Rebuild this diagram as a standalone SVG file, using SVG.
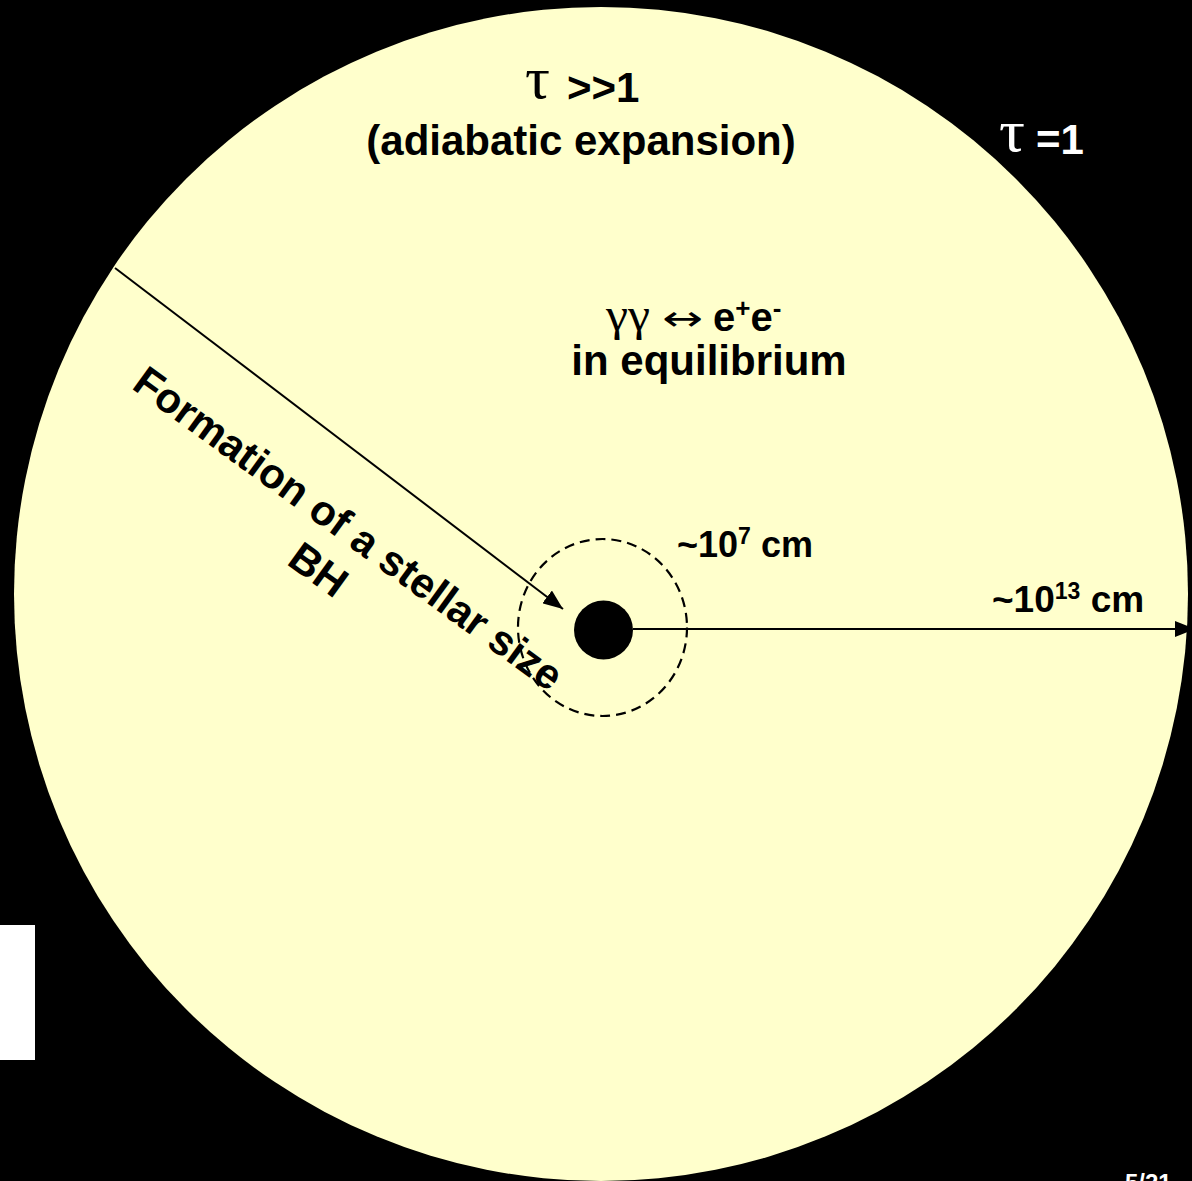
<svg xmlns="http://www.w3.org/2000/svg" width="1192" height="1181" viewBox="0 0 1192 1181">
<defs>
<style>
.t{font-family:"Liberation Sans",Arial,sans-serif;font-weight:bold;fill:#000}
.g{font-family:"Liberation Serif","Times New Roman",serif;fill:#000}
.w{fill:#fff}
.ln{stroke:#000;stroke-width:2;fill:none}
</style>
<marker id="ah" viewBox="0 0 20 16" refX="20" refY="8" markerWidth="20" markerHeight="16" markerUnits="userSpaceOnUse" orient="auto">
<path d="M0,0 L20,8 L0,16 Z" fill="#000"/>
</marker>
</defs>
<rect x="0" y="0" width="1192" height="1181" fill="#000"/>
<g id="cloud">
<circle cx="601" cy="594" r="587" fill="#FFFFCC"/>
</g>
<rect id="white-box" x="0" y="925" width="35" height="135" fill="#fff"/>
<g id="connectors">
<line class="ln" x1="115" y1="268" x2="563" y2="609" marker-end="url(#ah)"/>
<line class="ln" x1="633" y1="629" x2="1195" y2="629" marker-end="url(#ah)"/>
</g>
<g id="bh-region">
<ellipse cx="602.5" cy="627.5" rx="84.5" ry="88.5" fill="none" stroke="#000" stroke-width="2.2" stroke-dasharray="10,6"/>
<circle cx="603.5" cy="630" r="29.5" fill="#000"/>
</g>
<g id="label-tau-large">
<text class="g" x="525" y="98" font-size="60" textLength="25" lengthAdjust="spacingAndGlyphs">τ</text>
<text class="t" x="567" y="102" font-size="42">&gt;&gt;1</text>
<text class="t" x="581" y="155" text-anchor="middle" font-size="42">(adiabatic expansion)</text>
</g>
<g id="label-tau-one">
<text class="g w" x="999" y="151" font-size="60" textLength="26" lengthAdjust="spacingAndGlyphs">τ</text>
<text class="t w" x="1036" y="154" font-size="42">=1</text>
</g>
<g id="label-equilibrium">
<text class="g" x="606" y="330" font-size="46" textLength="44" lengthAdjust="spacingAndGlyphs">γγ</text>
<text x="662" y="330" font-family="'DejaVu Sans',sans-serif" font-size="34" textLength="41" lengthAdjust="spacingAndGlyphs">↔</text>
<text class="t" x="713" y="331" font-size="40">e<tspan font-size="26" dy="-14">+</tspan><tspan dy="14">e</tspan><tspan font-size="26" dy="-14">-</tspan></text>
<text class="t" x="709" y="375" text-anchor="middle" font-size="42">in equilibrium</text>
</g>
<g id="label-formation" transform="translate(340,540) rotate(36)">
<text class="t" x="0" y="0" text-anchor="middle" font-size="42">Formation of a stellar size</text>
<text class="t" x="0" y="51" text-anchor="middle" font-size="42">BH</text>
</g>
<g id="label-1e7">
<text class="t" x="677" y="557" font-size="36">~10<tspan font-size="23" dy="-13">7</tspan><tspan dy="13"> cm</tspan></text>
</g>
<g id="label-1e13">
<text class="t" x="992" y="612" font-size="37">~10<tspan font-size="23" dy="-13">13</tspan><tspan dy="13"> cm</tspan></text>
</g>
<text class="t w" x="1125" y="1191" font-size="24">5/21</text>
</svg>
